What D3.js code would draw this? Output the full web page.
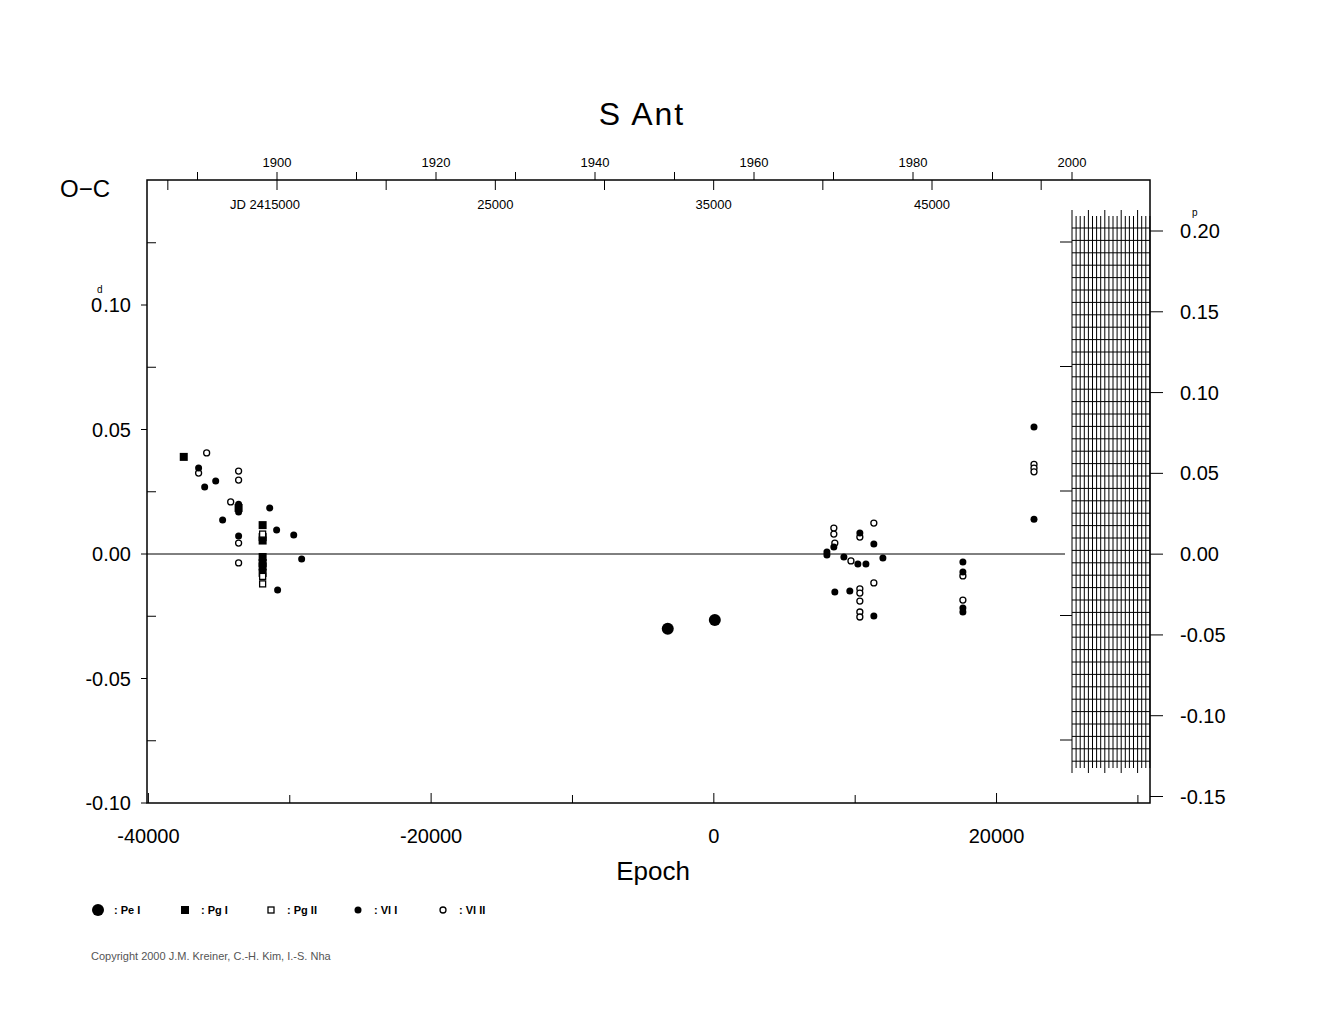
<!DOCTYPE html><html><head><meta charset="utf-8"><script src="https://d3js.org/d3.v7.min.js"></script>
<style>body{margin:0;background:#fff}text{font-family:Arial,"Liberation Sans",sans-serif}</style></head><body>
<svg id="c" width="1325" height="1020"></svg>
<script>
const peI=[[-3260,-0.030],[70,-0.0265]];
const pgI=[[-37500,0.039],[-33620,0.0185],[-31920,0.0116],[-31920,0.0068],[-31920,0.0054],[-31920,-0.0012],[-31920,-0.0036],[-31920,-0.005],[-31920,-0.0076]];
const pgII=[[-31920,0.008],[-31920,-0.009],[-31920,-0.012]];
const vlI=[[-36450,0.0345],[-35240,0.0293],[-36020,0.0269],[-33620,0.020],[-33620,0.0169],[-34750,0.0137],[-31420,0.0185],[-30930,0.0096],[-29720,0.0076],[-33620,0.0072],[-29160,-0.002],[-30860,-0.0145],
 [8490,0.0028],[8000,0.0008],[8000,-0.0004],[10330,0.0084],[11320,0.004],[9200,-0.0012],[10190,-0.004],[10760,-0.004],[11960,-0.0016],[17620,-0.0032],[17620,-0.0072],[8560,-0.0153],[9620,-0.0149],[11320,-0.0249],[17620,-0.0217],[17620,-0.0233],[22650,0.051],[22650,0.014]];
const vlII=[[-35880,0.0406],[-36450,0.0325],[-33620,0.0333],[-33620,0.0297],[-34180,0.0209],[-33620,0.0044],[-33620,-0.0036],
 [8490,0.0104],[8490,0.008],[8560,0.0044],[10330,0.0068],[11320,0.0124],[9700,-0.0028],[11320,-0.0116],[17620,-0.0088],[10330,-0.014],[10330,-0.0157],[10330,-0.0189],[10330,-0.0233],[10330,-0.0253],[17620,-0.0185],[22650,0.036],[22650,0.0345],[22650,0.033]];
const leftTicks=[0.10,0.05,0.00,-0.05,-0.10];
const rightTicks=[0.20,0.15,0.10,0.05,0.00,-0.05,-0.10,-0.15];
const epochTicks=[-40000,-20000,0,20000];
const years=[1900,1920,1940,1960,1980,2000];
const jdLabels=[[15000,"JD 2415000"],[25000,"25000"],[35000,"35000"],[45000,"45000"]];
const legendItems=[["peI",": Pe I"],["pgI",": Pg I"],["pgII",": Pg II"],["vlI",": Vl I"],["vlII",": Vl II"]];

const svg=d3.select("#c");
const X0=147,X1=1150,Y0=180,Y1=803;
const x=d3.scaleLinear().domain([-40100,(1150-714)/14.13*1000]).range([X0,X1]);
const y=d3.scaleLinear().domain([-0.1,0.1]).range([803,305]);
const yr=d3.scaleLinear().domain([-0.15,0.20]).range([796.5,231]);
const xy=d3.scaleLinear().domain([1900,2000]).range([277,1072]);
const xj=d3.scaleLinear().domain([15000,45000]).range([277,932]);
const g=svg.append("g").attr("stroke","#000");
const hx0=1072,hx1=1150;
let k=0;
for(let xx=hx0;xx<=hx1;xx+=4.1,k++){g.append("line").attr("x1",xx).attr("x2",xx).attr("y1",k%4==0?210:216).attr("y2",k%4==0?773:768);}
for(let yy=228;yy<=765;yy+=12.4){g.append("line").attr("x1",hx0).attr("x2",1150).attr("y1",yy).attr("y2",yy);}
for(let yy=242;yy<=770;yy+=124.5){g.append("line").attr("x1",1060).attr("x2",hx0).attr("y1",yy).attr("y2",yy);}
g.append("rect").attr("x",X0).attr("y",Y0).attr("width",X1-X0).attr("height",Y1-Y0).attr("fill","none").attr("stroke-width",1.5);
g.append("line").attr("x1",X0).attr("x2",1065).attr("y1",y(0)).attr("y2",y(0));
leftTicks.forEach(v=>{g.append("line").attr("x1",X0-6).attr("x2",X0).attr("y1",y(v)).attr("y2",y(v));
 if(v===0.10){
  svg.append("text").attr("x",91).attr("y",y(v)+7).attr("font-size",20).text("0");
  svg.append("text").attr("x",131).attr("y",y(v)+7).attr("text-anchor","end").attr("font-size",20).text(".10");
 } else svg.append("text").attr("x",131).attr("y",y(v)+7).attr("text-anchor","end").attr("font-size",20).text(v.toFixed(2));});
[0.125,0.075,0.025,-0.025,-0.075].forEach(v=>g.append("line").attr("x1",X0).attr("x2",X0+9).attr("y1",y(v)).attr("y2",y(v)));
svg.append("text").attr("x",97).attr("y",293).attr("font-size",10).text("d");
rightTicks.forEach(v=>{g.append("line").attr("x1",X1).attr("x2",X1+13).attr("y1",yr(v)).attr("y2",yr(v));
 if(v===0.20){
  svg.append("text").attr("x",1180).attr("y",yr(v)+7).attr("font-size",20).text("0");
  svg.append("text").attr("x",1192).attr("y",yr(v)+7).attr("font-size",20).text(".20");
 } else svg.append("text").attr("x",1180).attr("y",yr(v)+7).attr("font-size",20).text(v.toFixed(2));});
svg.append("text").attr("x",1192).attr("y",216).attr("font-size",10).text("p");
epochTicks.forEach(v=>{g.append("line").attr("x1",x(v)).attr("x2",x(v)).attr("y1",Y1).attr("y2",Y1-10);
 svg.append("text").attr("x",x(v)).attr("y",843).attr("text-anchor","middle").attr("font-size",20).text(v);});
[-30000,-10000,10000,30000].forEach(v=>g.append("line").attr("x1",x(v)).attr("x2",x(v)).attr("y1",Y1).attr("y2",Y1-8));
d3.range(1890,2011,10).forEach(v=>{if(xy(v)>X0&&xy(v)<X1)g.append("line").attr("x1",xy(v)).attr("x2",xy(v)).attr("y1",Y0).attr("y2",Y0-8);});
years.forEach(v=>svg.append("text").attr("x",xy(v)).attr("y",167).attr("text-anchor","middle").attr("font-size",13).text(v));
d3.range(10000,56000,5000).forEach(v=>{if(xj(v)>X0&&xj(v)<1070)g.append("line").attr("x1",xj(v)).attr("x2",xj(v)).attr("y1",Y0).attr("y2",Y0+10);});
jdLabels.forEach(([v,t])=>svg.append("text").attr("x",v==15000?265:xj(v)).attr("y",209).attr("text-anchor","middle").attr("font-size",13).text(t));
svg.append("text").attr("x",642).attr("y",125).attr("text-anchor","middle").attr("font-size",32).attr("letter-spacing",2).text("S  Ant");
svg.append("text").attr("x",60).attr("y",197).attr("font-size",24).text("O−C");
svg.append("text").attr("x",653).attr("y",880).attr("text-anchor","middle").attr("font-size",26).text("Epoch");
svg.append("text").attr("x",91).attr("y",960).attr("font-size",11).attr("fill","#555").text("Copyright 2000 J.M. Kreiner, C.-H. Kim, I.-S. Nha");
function mark(sel,type,cx,cy){
 if(type=="peI")sel.append("circle").attr("cx",cx).attr("cy",cy).attr("r",6).attr("fill","#000");
 else if(type=="pgI")sel.append("rect").attr("x",cx-4).attr("y",cy-4).attr("width",8).attr("height",8).attr("fill","#000");
 else if(type=="pgII")sel.append("rect").attr("x",cx-3).attr("y",cy-3).attr("width",6).attr("height",6).attr("fill","#fff").attr("stroke","#000").attr("stroke-width",1.3);
 else if(type=="vlI")sel.append("circle").attr("cx",cx).attr("cy",cy).attr("r",3.5).attr("fill","#000");
 else sel.append("circle").attr("cx",cx).attr("cy",cy).attr("r",3).attr("fill","#fff").attr("stroke","#000").attr("stroke-width",1.3);
}
const pts=svg.append("g");
[["vlII",vlII],["vlI",vlI],["pgI",pgI],["pgII",pgII],["peI",peI]].forEach(([t,arr])=>arr.forEach(d=>mark(pts,t,x(d[0]),y(d[1]))));
const lg=svg.append("g");
const lx=[98,185,271,358,443];
legendItems.forEach(([t,l],i)=>{mark(lg,t,lx[i],910);lg.append("text").attr("x",lx[i]+16).attr("y",914).attr("font-size",11).attr("font-weight","bold").text(l);});
</script></body></html>
